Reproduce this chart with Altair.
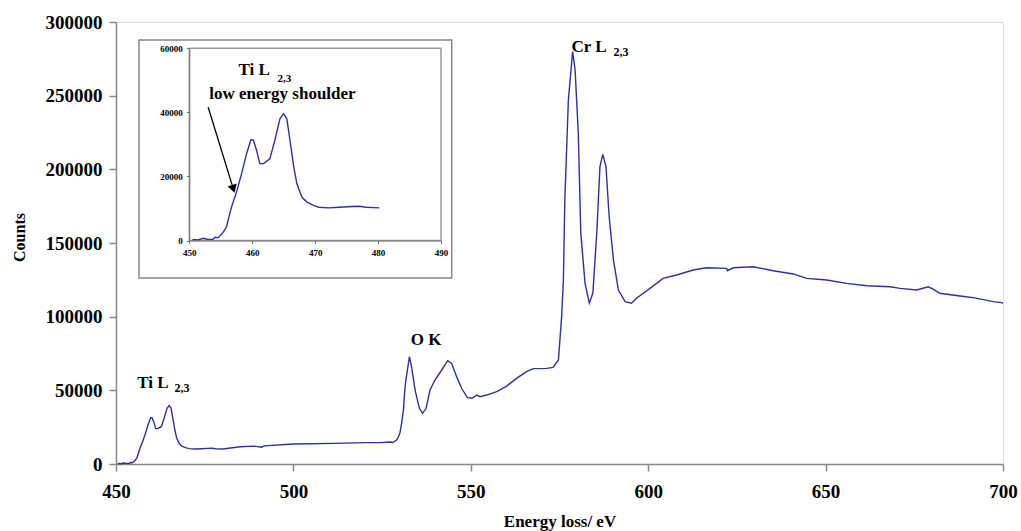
import altair as alt
import pandas as pd

# ---- spectrum ----
energy = [450.5, 451.4, 452.2, 452.8, 453.7, 454.1, 454.6, 455.4, 455.9, 456.7,
          457.5, 458.3, 459.1, 459.8, 460.2, 460.7, 461.2, 461.8, 462.8, 463.6,
          464.4, 465.0, 465.5, 466.0, 466.6, 467.1, 467.9, 468.7, 469.8, 470.6,
          472.2, 473.8, 475.9, 477.0, 478.1, 480.2, 485.0, 489.0, 491.0, 491.8,
          500.0, 511.3, 520.7, 524.4, 527.2, 528.0, 529.1, 529.6, 530.0, 530.5,
          531.0, 531.4, 531.7, 532.7, 533.3, 534.3, 535.5, 536.4, 537.4, 538.5,
          539.9, 541.8, 543.5, 544.6, 546.0, 547.4, 549.0, 550.3, 551.7, 552.6,
          554.5, 557.3, 560.1, 562.9, 565.7, 567.6, 571.4, 573.2, 574.7, 575.6,
          576.1, 576.5, 577.5, 578.7, 579.4, 580.3, 581.0, 582.2, 583.4, 584.4,
          585.5, 586.4, 587.2, 588.1, 589.0, 590.2, 591.6, 593.5, 595.3, 596.7,
          600.5, 604.2, 608.0, 612.7, 616.5, 622.1, 622.3, 624.0, 629.6, 635.2,
          640.9, 644.7, 650.3, 655.9, 661.6, 668.2, 671.0, 675.7, 678.9, 680.3,
          682.2, 687.9, 691.6, 697.3, 699.6, 700.0]
counts = [300, 200, 700, 400, 300, 1000, 900, 2600, 4200, 10400,
          15100, 20800, 27100, 31500, 31300, 28100, 24000, 24000, 25500, 31300,
          38000, 39600, 38000, 31300, 22900, 17700, 13500, 12000, 10900, 10400,
          10200, 10400, 10600, 10700, 10400, 10200, 11700, 12100, 11400, 12300,
          13600, 14000, 14500, 14500, 14900, 14600, 16300, 18500, 20800, 27600,
          36600, 50200, 57000, 72800, 66000, 50200, 37800, 34400, 37800, 50200,
          57000, 63800, 70100, 68300, 59300, 51400, 45200, 44600, 46800, 45700,
          46800, 49100, 52900, 58100, 62700, 64700, 64900, 65600, 70600, 100000,
          125000, 179200, 247000, 280000, 267400, 224400, 156600, 122600, 109100, 115900,
          156600, 201800, 210200, 201800, 167800, 138500, 118100, 110200, 109100, 112500,
          119200, 126000, 128300, 131700, 133200, 132800, 131200, 133200, 133900, 131200,
          129000, 126000, 124900, 122600, 121000, 120300, 119200, 118100, 120300, 118700,
          115900, 114000, 112900, 110200, 109500, 109000]

# ---- axis ticks ----
main_x_ticks = [450, 500, 550, 600, 650, 700]
main_y_ticks = [0, 50000, 100000, 150000, 200000, 250000, 300000]
inset_x_ticks = [450, 460, 470, 480, 490]
inset_y_ticks = [0, 20000, 40000, 60000]
inset_max_energy = 480.2

# ---- annotations ----
main_label_text = ["Ti L", "2,3", "O K", "Cr L", "2,3"]
main_label_ev = [460.4, 468.6, 537.4, 583.3, 592.3]
main_label_counts = [55000, 51600, 84200, 283000, 279600]
main_label_size = [17, 12, 17, 17, 12]

inset_label_text = ["Ti L", "2,3", "low energy shoulder"]
inset_label_ev = [460.3, 465.1, 464.8]
inset_label_counts = [53100, 50500, 45600]
inset_label_size = [17, 11, 17]

arrow_ev = [453.0, 457.0]
arrow_counts = [41600, 16100]

LINE = "#30309a"
SERIF = "Liberation Serif"
W, H = 887, 442

df = pd.DataFrame({"ev": energy, "counts": counts})
main_labels = pd.DataFrame({"ev": main_label_ev, "counts": main_label_counts,
                            "label": main_label_text, "size": main_label_size})
inset_labels = pd.DataFrame({"ev": inset_label_ev, "counts": inset_label_counts,
                             "label": inset_label_text, "size": inset_label_size})
arrow_df = pd.DataFrame({"ev": [arrow_ev[0]], "counts": [arrow_counts[0]],
                         "ev2": [arrow_ev[1]], "counts2": [arrow_counts[1]]})
head_df = pd.DataFrame({"ev": [arrow_ev[1]], "counts": [arrow_counts[1]]})
frame_df = pd.DataFrame({"ev": [inset_x_ticks[0]], "ev2": [inset_x_ticks[-1]],
                         "counts": [inset_y_ticks[0]], "counts2": [inset_y_ticks[-1]]})

# ---- main scales/axes ----
x_main = alt.X("ev:Q", scale=alt.Scale(domain=[450, 700], nice=False, zero=False),
               axis=alt.Axis(values=main_x_ticks, format="d", title="Energy loss/ eV",
                             orient="bottom", grid=False, domainColor="#888888",
                             domainWidth=1.5, tickColor="#888888", tickWidth=1.5,
                             tickSize=7, labelPadding=20, labelBaseline="middle",
                             labelFlush=False, labelOverlap=False,
                             labelFont=SERIF, labelFontWeight="bold", labelFontSize=19,
                             labelColor="black", titleFont=SERIF, titleFontWeight="bold",
                             titleFontSize=17, titleColor="black", titleY=57,
                             titleBaseline="middle"))
y_main = alt.Y("counts:Q", scale=alt.Scale(domain=[0, 300000], nice=False),
               axis=alt.Axis(values=main_y_ticks, format="d", title="Counts",
                             orient="left", grid=False, domainColor="#888888",
                             domainWidth=1.5, tickColor="#888888", tickWidth=1.5,
                             tickSize=7, labelPadding=7, labelFlush=False, labelOverlap=False,
                             labelFont=SERIF, labelFontWeight="bold", labelFontSize=19,
                             labelColor="black", titleFont=SERIF, titleFontWeight="bold",
                             titleFontSize=16, titleColor="black", titleX=-97, titleY=215,
                             titleAlign="center", titleBaseline="middle", titleAngle=270))

main_line = alt.Chart(df).mark_line(color=LINE, strokeWidth=1.4).encode(x=x_main, y=y_main)
main_text = alt.Chart(main_labels).mark_text(font=SERIF, fontWeight="bold", color="black",
                                             align="center", baseline="middle").encode(
    x=x_main, y=y_main, text="label:N",
    size=alt.Size("size:Q", scale=None, legend=None))
main_layer = alt.layer(main_line, main_text)

# ---- inset scales/axes ----
x_in = alt.X("ev:Q", scale=alt.Scale(domain=[450, 490], range=[73.3, 325], nice=False, zero=False),
             axis=alt.Axis(values=inset_x_ticks, format="d", title=None, orient="bottom",
                           offset=-223.5, grid=False, domainColor="#777777", tickColor="#777777",
                           tickSize=3, labelPadding=9, labelBaseline="middle",
                           labelFlush=False, labelOverlap=False, zindex=2,
                           labelFont=SERIF, labelFontWeight="bold", labelFontSize=9,
                           labelColor="black"))
y_in = alt.Y("counts:Q", scale=alt.Scale(domain=[0, 60000], range=[218.5, 26.3], nice=False),
             axis=alt.Axis(values=inset_y_ticks, format="d", title=None, orient="left",
                           offset=-73.3, grid=False, domainColor="#777777", tickColor="#777777",
                           tickSize=3, labelPadding=4, labelFlush=False, labelOverlap=False,
                           zindex=2,
                           labelFont=SERIF, labelFontWeight="bold", labelFontSize=9,
                           labelColor="black"))

outer_box = alt.Chart(frame_df).mark_rect(fill=None, stroke="#888888", strokeWidth=1.5).encode(
    x=alt.value(23), x2=alt.value(335.7), y=alt.value(18), y2=alt.value(256))
inner_frame = alt.Chart(frame_df).mark_rect(fill=None, stroke="#999999", strokeWidth=1.5).encode(
    x=x_in, x2="ev2:Q", y=y_in, y2="counts2:Q")
inset_line = alt.Chart(df).transform_filter(
    alt.datum.ev <= inset_max_energy).mark_line(color=LINE, strokeWidth=1.4).encode(x=x_in, y=y_in)
inset_text = alt.Chart(inset_labels).mark_text(font=SERIF, fontWeight="bold", color="black",
                                               align="center", baseline="middle").encode(
    x=x_in, y=y_in, text="label:N",
    size=alt.Size("size:Q", scale=None, legend=None))
arrow_shaft = alt.Chart(arrow_df).mark_rule(color="black", strokeWidth=1.3).encode(
    x=x_in, x2="ev2:Q", y=y_in, y2="counts2:Q")
arrow_head = alt.Chart(head_df).mark_point(shape="triangle-up", filled=True, color="black",
                                           size=90, angle=163, opacity=1).encode(x=x_in, y=y_in)
inset_layer = alt.layer(outer_box, inner_frame, inset_line, inset_text, arrow_shaft, arrow_head)

chart = alt.layer(main_layer, inset_layer).resolve_scale(
    x="independent", y="independent", size="independent"
).properties(
    width=W, height=H,
    autosize=alt.AutoSizeParams(type="none"),
    padding={"left": 116, "top": 22, "right": 18, "bottom": 67},
).configure_view(stroke="#a0a0a0", strokeWidth=1.5).configure(background="white")

chart.save("out.html", embed_options={"renderer": "svg", "actions": False})
